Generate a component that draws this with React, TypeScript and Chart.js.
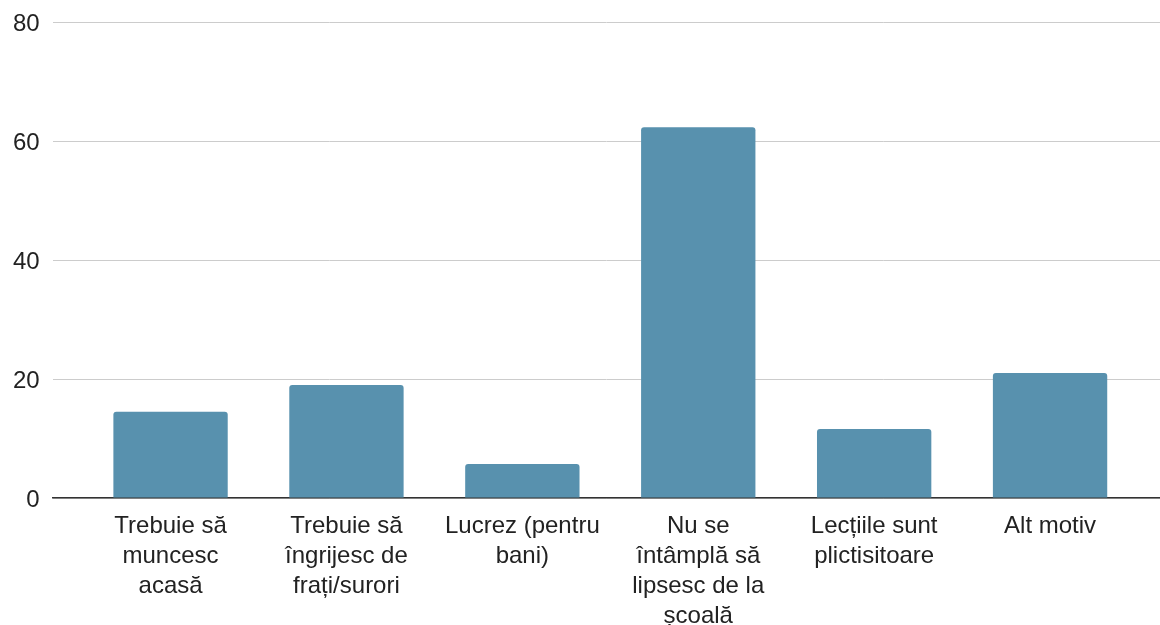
import React, { useEffect, useRef } from "react";
import { Chart, registerables } from "chart.js";

Chart.register(...registerables);

// Category labels (one entry per line of the wrapped label)
const categoryLines: string[][] = [
  ["Trebuie să", "muncesc", "acasă"],
  ["Trebuie să", "îngrijesc de", "frați/surori"],
  ["Lucrez (pentru", "bani)"],
  ["Nu se", "întâmplă să", "lipsesc de la", "școală"],
  ["Lecțiile sunt", "plictisitoare"],
  ["Alt motiv"],
];

// Series values
const values: number[] = [14.5, 19, 5.7, 62.3, 11.6, 21];

// Y axis ticks
const yMin = 0;
const yMax = 80;
const yStep = 20;

const FONT = "'Liberation Sans', Arial, sans-serif";

export default function App() {
  const canvasRef = useRef<HTMLCanvasElement | null>(null);

  useEffect(() => {
    if (!canvasRef.current) return;
    const chart = new Chart(canvasRef.current, {
      type: "bar",
      data: {
        datasets: [
          {
            data: values.map((v, i) => ({ x: i, y: v })),
            backgroundColor: "#5891ae",
            borderRadius: 3,
            barPercentage: 0.65,
            categoryPercentage: 1,
          },
        ],
      },
      options: {
        responsive: false,
        animation: false,
        devicePixelRatio: 1,
        layout: { padding: { left: 0, top: 0, right: 0, bottom: 0 } },
        plugins: { legend: { display: false }, tooltip: { enabled: false } },
        scales: {
          x: {
            type: "linear",
            offset: false,
            min: -0.67,
            max: 5.625,
            grid: { display: false, drawTicks: false, offset: false },
            border: { display: true, color: "#333333", width: 1.5 },
            ticks: {
              stepSize: 1,
              includeBounds: false,
              autoSkip: false,
              maxRotation: 0,
              minRotation: 0,
              padding: 13,
              color: "#222222",
              font: { family: FONT, size: 24, lineHeight: 1.25 },
              callback: (v: any) =>
                Number.isInteger(v) && categoryLines[v] ? categoryLines[v] : "",
            },
          },
          y: {
            min: yMin,
            max: yMax,
            grid: { color: "#cccccc", lineWidth: 1, drawTicks: false },
            border: { display: false },
            ticks: {
              stepSize: yStep,
              padding: 13,
              labelOffset: 2,
              color: "#222222",
              font: { family: FONT, size: 24, lineHeight: 0.75 },
            },
          },
        },
      },
    });
    return () => chart.destroy();
  }, []);

  return (
    <div
      style={{
        position: "fixed",
        left: 0,
        top: 0,
        width: 1160,
        height: 625,
        overflow: "hidden",
        background: "#ffffff",
      }}
    >
      <canvas ref={canvasRef} width={1160} height={644} style={{ display: "block" }} />
    </div>
  );
}
